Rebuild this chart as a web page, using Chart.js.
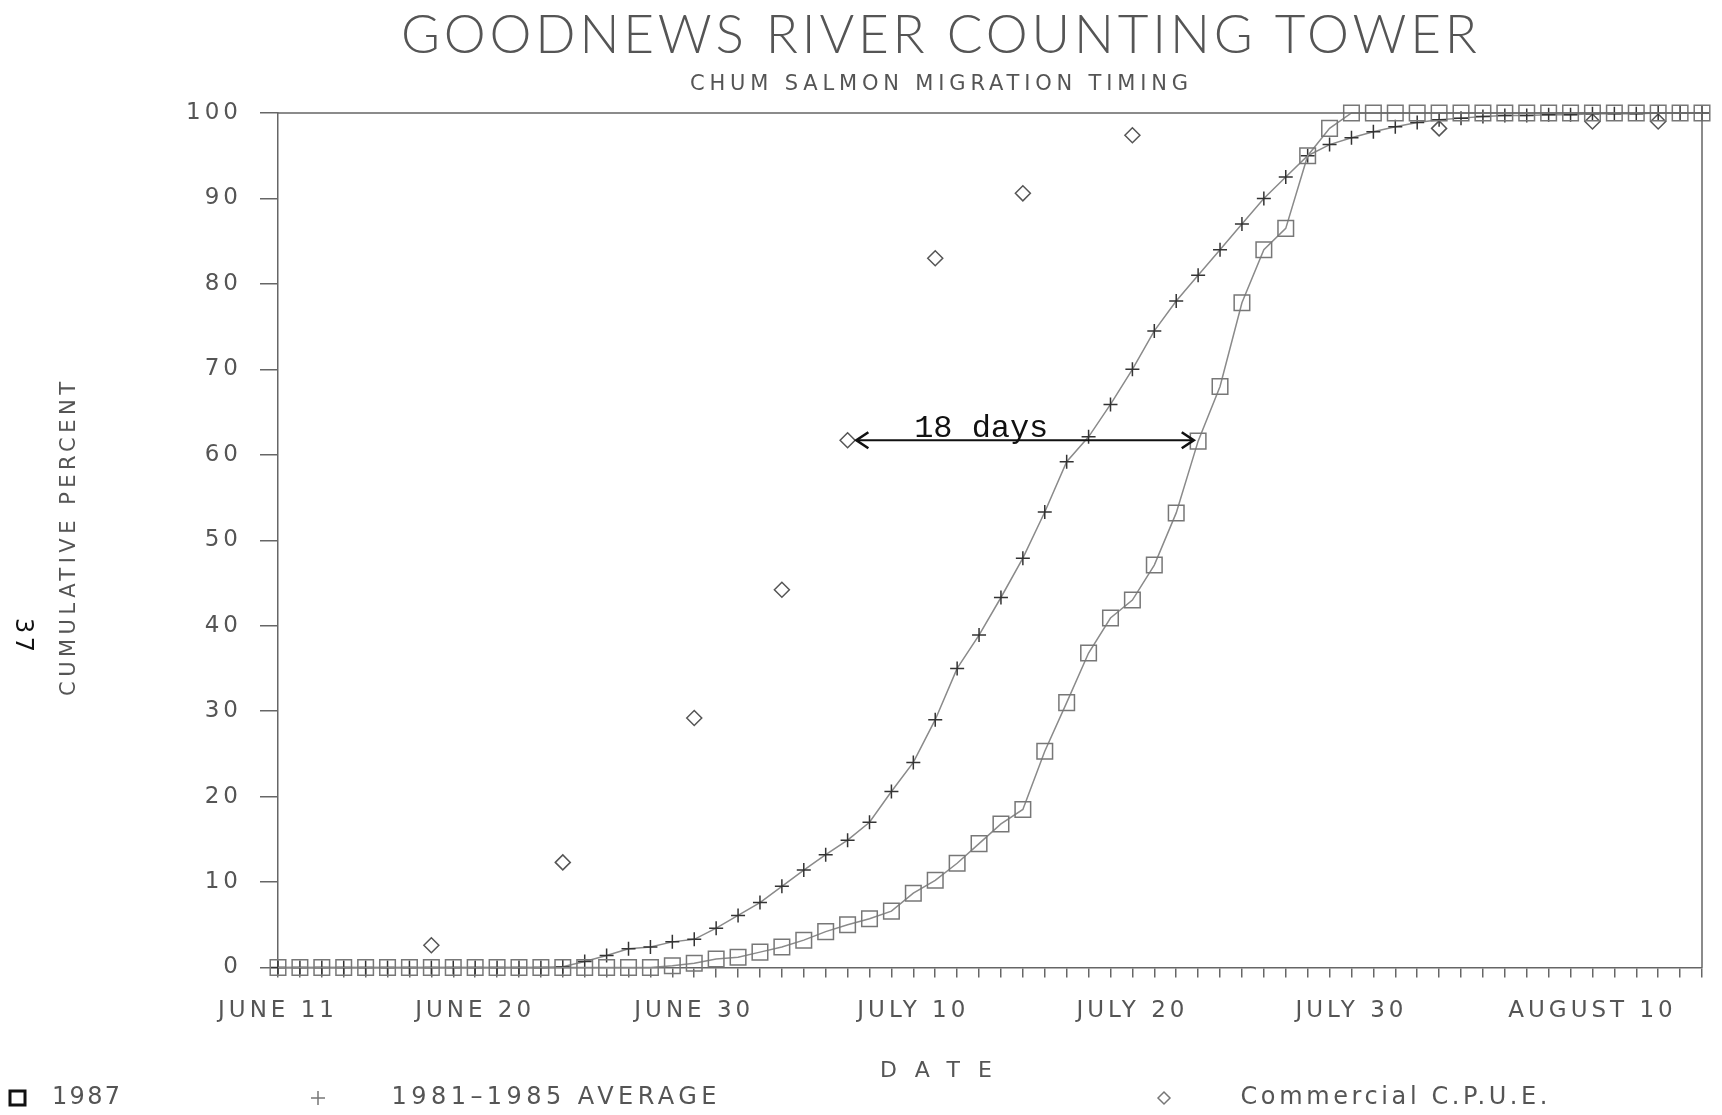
<!DOCTYPE html>
<html>
<head>
<meta charset="utf-8">
<title>Goodnews River Counting Tower</title>
<script src="https://cdn.jsdelivr.net/npm/chart.js@4.4.1/dist/chart.umd.min.js"></script>
<style>
  html, body { margin: 0; padding: 0; background: #fff; }
  canvas { display: block; }
</style>
</head>
<body>
<canvas id="graficoTorre" width="1722" height="1115"></canvas>
<script>
// day 0 = June 11
const days = [0,1,2,3,4,5,6,7,8,9,10,11,12,13,14,15,16,17,18,19,20,21,22,23,24,25,26,27,28,29,30,31,32,33,34,35,36,37,38,39,40,41,42,43,44,45,46,47,48,49,50,51,52,53,54,55,56,57,58,59,60,61,62,63,64,65];

const run1987 = [
  0,0,0,0,0,0,0,0,0,0,0,0,0,0,0,0,0,0,
  0.2,0.5,1.0,1.2,1.8,2.4,3.2,4.2,5.0,5.7,6.6,8.7,10.2,12.2,14.5,16.8,18.5,
  25.3,31.0,36.8,40.9,43.0,47.1,53.2,61.6,68.0,77.8,84.0,86.5,95.0,98.2,
  100,100,100,100,100,100,100,100,100,100,100,100,100,100,100,100,100
];

const avg8185 = [
  0,0,0,0,0,0,0,0,0,0,0,0,0,
  0.1,0.7,1.4,2.2,2.4,3.0,3.3,4.6,6.1,7.6,9.5,11.4,13.2,14.9,17.0,20.6,24.0,29.0,
  35.0,38.9,43.3,47.9,53.3,59.2,62.1,65.9,70.0,74.5,78.0,81.0,84.0,87.0,90.0,92.5,
  95.0,96.3,97.1,97.8,98.4,98.9,99.2,99.4,99.6,99.7,99.7,99.8,99.8,99.9,99.9,99.9,
  100,100,100
];

const cpueDays = [7,13,19,23,26,30,34,39,53,60,63];
const cpueValues = [2.6,12.3,29.2,44.2,61.7,83.0,90.6,97.4,98.2,99.0,99.0];

const tickDays = [0,9,19,29,39,49,60];
const tickLabels = ['JUNE 11','JUNE 20','JUNE 30','JULY 10','JULY 20','JULY 30','AUGUST 10'];

// "18 days" arrow, in data units
const gapFrom = 26.4, gapTo = 41.8, gapAt = 61.7;
const gapLabel = '18 days', gapLabelDay = 32.1, gapLabelAt = 63.1;

const pts = (xs, ys) => xs.map((x, i) => ({ x: x, y: ys[i] }));

// draw text stretched to a given width with letter spacing
function fitText(ctx, text, x, y, width, font, color) {
  ctx.save();
  ctx.font = font;
  ctx.fillStyle = color;
  ctx.textBaseline = 'middle';
  ctx.textAlign = 'left';
  ctx.letterSpacing = '0px';
  const w = ctx.measureText(text).width;
  const sp = text.length > 1 ? (width - w) / (text.length - 1) : 0;
  ctx.letterSpacing = sp + 'px';
  ctx.fillText(text, x - width / 2, y);
  ctx.restore();
}

const decor = {
  id: 'decor',
  beforeDraw(chart) {
    chart.ctx.letterSpacing = '4px';
  },
  afterDraw(chart) {
    const ctx = chart.ctx;
    const a = chart.chartArea;
    const xs = chart.scales.x, ys = chart.scales.y;
    ctx.save();
    ctx.letterSpacing = '0px';

    // top and right frame
    ctx.strokeStyle = '#666';
    ctx.lineWidth = 1.5;
    ctx.beginPath();
    ctx.moveTo(a.left, a.top);
    ctx.lineTo(a.right, a.top);
    ctx.lineTo(a.right, a.bottom);
    ctx.stroke();

    // double arrow
    const y = ys.getPixelForValue(gapAt);
    const x1 = xs.getPixelForValue(gapFrom), x2 = xs.getPixelForValue(gapTo);
    ctx.strokeStyle = '#111';
    ctx.lineWidth = 2;
    ctx.beginPath();
    ctx.moveTo(x1, y); ctx.lineTo(x2, y);
    ctx.stroke();
    ctx.lineWidth = 2.6;
    ctx.beginPath();
    ctx.moveTo(x1 + 12, y - 8); ctx.lineTo(x1, y); ctx.lineTo(x1 + 12, y + 8);
    ctx.moveTo(x2 - 12, y - 8); ctx.lineTo(x2, y); ctx.lineTo(x2 - 12, y + 8);
    ctx.stroke();
    fitText(ctx, gapLabel, xs.getPixelForValue(gapLabelDay), ys.getPixelForValue(gapLabelAt),
      134, '32px "Liberation Mono"', '#111');

    // titles
    fitText(ctx, 'GOODNEWS RIVER COUNTING TOWER', 939, 36, 1076, '300 53px Lato', '#555');
    fitText(ctx, 'CHUM SALMON MIGRATION TIMING', 939, 85, 498, '21px "DejaVu Sans"', '#555');
    fitText(ctx, 'DATE', 936, 1071, 112, '22px "DejaVu Sans"', '#555');

    ctx.save();
    ctx.translate(70, 539);
    ctx.rotate(-Math.PI / 2);
    fitText(ctx, 'CUMULATIVE PERCENT', 0, 0, 314, '21px "DejaVu Sans"', '#555');
    ctx.restore();

    ctx.save();
    ctx.translate(22, 635);
    ctx.rotate(Math.PI / 2);
    fitText(ctx, '37', 0, 0, 34, '24px "DejaVu Sans"', '#111');
    ctx.restore();

    // legend
    const ds = chart.data.datasets;
    const ly = 1098;
    ctx.lineWidth = 3;
    ctx.strokeStyle = '#111';
    ctx.strokeRect(10, ly - 7, 15, 14);
    fitText(ctx, ds[0].label, 86, ly, 68, '24px "DejaVu Sans"', '#555');

    ctx.strokeStyle = '#777';
    ctx.fillStyle = 'rgba(0,0,0,0)';
    ctx.lineWidth = 1.5;
    Chart.helpers.drawPoint(ctx, { pointStyle: 'cross', radius: 7, rotation: 0, borderWidth: 1.5 }, 318, ly);
    fitText(ctx, ds[1].label, 554, ly, 325, '24px "DejaVu Sans"', '#555');

    ctx.strokeStyle = '#777';
    ctx.fillStyle = 'rgba(0,0,0,0)';
    ctx.lineWidth = 1.5;
    Chart.helpers.drawPoint(ctx, { pointStyle: 'rectRot', radius: 6, rotation: 0, borderWidth: 1.5 }, 1164, ly);
    fitText(ctx, ds[2].label, 1394, ly, 307, '24px "DejaVu Sans"', '#555');

    ctx.restore();
  }
};

new Chart(document.getElementById('graficoTorre').getContext('2d'), {
  type: 'line',
  data: {
    datasets: [
      {
        label: '1987',
        data: pts(days, run1987),
        borderColor: '#8a8a8a',
        borderWidth: 1.5,
        pointStyle: 'rect',
        pointRadius: 11,
        pointBorderColor: '#777',
        pointBorderWidth: 1.5,
        pointBackgroundColor: 'rgba(0,0,0,0)',
        tension: 0,
        clip: false
      },
      {
        label: '1981\u20131985 AVERAGE',
        data: pts(days, avg8185),
        borderColor: '#8a8a8a',
        borderWidth: 1.5,
        pointStyle: 'cross',
        pointRadius: 7,
        pointBorderColor: '#333',
        pointBorderWidth: 1.5,
        tension: 0,
        clip: false
      },
      {
        label: 'Commercial C.P.U.E.',
        data: pts(cpueDays, cpueValues),
        showLine: false,
        pointStyle: 'rectRot',
        pointRadius: 7.5,
        pointBorderColor: '#555',
        pointBorderWidth: 1.5,
        pointBackgroundColor: 'rgba(0,0,0,0)',
        clip: false
      }
    ]
  },
  options: {
    responsive: false,
    animation: false,
    layout: { padding: { left: 0, right: 14, top: 113, bottom: 0 } },
    plugins: {
      legend: { display: false },
      title: { display: false },
      tooltip: { enabled: false }
    },
    scales: {
      x: {
        type: 'linear',
        min: 0,
        max: 65,
        afterFit: s => { s.height = 147.5; },
        grid: { display: true, drawOnChartArea: false, drawTicks: true, tickLength: 10, color: '#666', lineWidth: 1.5 },
        border: { display: true, color: '#666', width: 1.5 },
        ticks: {
          stepSize: 1,
          autoSkip: false,
          maxRotation: 0,
          padding: 20,
          color: '#555',
          font: { family: 'DejaVu Sans', size: 23 },
          callback: v => {
            const k = tickDays.indexOf(v);
            return k >= 0 ? tickLabels[k] : '';
          }
        }
      },
      y: {
        min: 0,
        max: 100,
        afterFit: s => { s.width = 278; },
        grid: { display: true, drawOnChartArea: false, drawTicks: true, tickLength: 18, color: '#666', lineWidth: 1.5 },
        border: { display: true, color: '#666', width: 1.5 },
        ticks: {
          stepSize: 10,
          padding: 18,
          color: '#555',
          font: { family: 'DejaVu Sans', size: 23 }
        }
      }
    }
  },
  plugins: [decor]
});
</script>
</body>
</html>
